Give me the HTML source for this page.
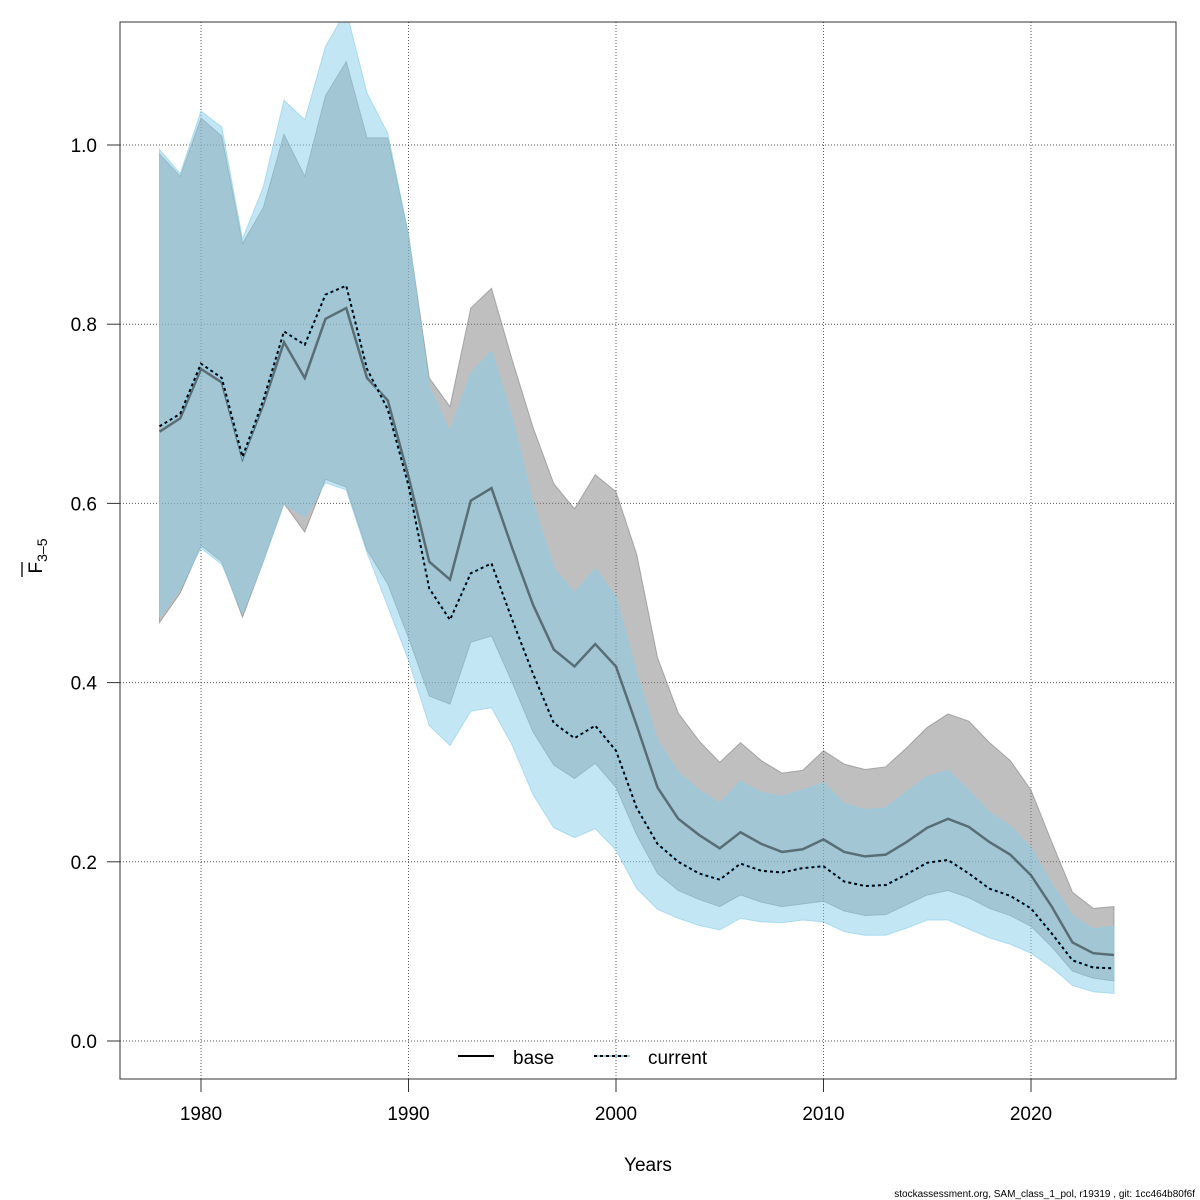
<!DOCTYPE html>
<html><head><meta charset="utf-8"><style>
body{margin:0;background:#fff}
svg{display:block;font-family:"Liberation Sans",sans-serif}
</style></head><body>
<svg id="chart" width="1200" height="1200" viewBox="0 0 1200 1200" xmlns="http://www.w3.org/2000/svg">
<defs><clipPath id="clip"><rect x="120" y="22" width="1056" height="1057"/></clipPath></defs>
<rect width="1200" height="1200" fill="#fff"/>
<g id="grid"></g>
<g id="bands" clip-path="url(#clip)"></g>
<g id="lines" clip-path="url(#clip)"></g>
<rect x="120" y="22" width="1056" height="1057" fill="none" stroke="#333" stroke-width="1"/>
<g id="axes"></g>
<g>
  <line x1="458" y1="1056" x2="494" y2="1056" stroke="#000" stroke-width="2"/>
  <text x="513" y="1064" font-size="19">base</text>
  <line x1="594" y1="1056" x2="630" y2="1056" stroke="#87ceeb" stroke-width="2"/>
  <line x1="594" y1="1056" x2="630" y2="1056" stroke="#000" stroke-width="2" stroke-dasharray="3,3"/>
  <text x="648" y="1064" font-size="19">current</text>
</g>
<text x="648" y="1171" font-size="19" text-anchor="middle">Years</text>
<g transform="translate(42,556) rotate(-90)">
  <text x="0" y="0" font-size="19" text-anchor="middle">F<tspan font-size="14" dy="5">3–5</tspan></text>
  <line x1="-21" y1="-20" x2="-6" y2="-20" stroke="#000" stroke-width="1.3"/>
</g>
<text x="1195" y="1197" font-size="10" text-anchor="end">stockassessment.org, SAM_class_1_pol, r19319 , git: 1cc464b80f6f</text>
</svg>
<script>
const years = [];
for (let y = 1978; y <= 2024; y++) years.push(y);
const baseMean = [0.68,0.695,0.75,0.735,0.65,0.71,0.78,0.74,0.806,0.818,0.74,0.715,0.63,0.535,0.515,0.603,0.617,0.55,0.487,0.437,0.418,0.443,0.418,0.352,0.283,0.248,0.23,0.215,0.233,0.22,0.211,0.214,0.225,0.211,0.206,0.208,0.222,0.238,0.248,0.239,0.222,0.208,0.185,0.15,0.11,0.098,0.096];
const baseUpper = [0.99,0.965,1.03,1.01,0.89,0.93,1.012,0.965,1.055,1.093,1.008,1.008,0.9,0.74,0.708,0.818,0.84,0.76,0.685,0.622,0.594,0.632,0.613,0.543,0.428,0.366,0.335,0.311,0.333,0.313,0.299,0.302,0.324,0.309,0.303,0.306,0.327,0.35,0.365,0.357,0.333,0.313,0.28,0.222,0.166,0.148,0.15];
const baseLower = [0.467,0.5,0.553,0.535,0.473,0.535,0.6,0.568,0.627,0.618,0.548,0.51,0.45,0.385,0.376,0.445,0.452,0.4,0.345,0.308,0.293,0.31,0.283,0.23,0.187,0.168,0.158,0.15,0.163,0.155,0.15,0.153,0.156,0.145,0.14,0.141,0.152,0.163,0.168,0.16,0.148,0.14,0.128,0.105,0.078,0.07,0.067];
const curMean = [0.686,0.7,0.756,0.74,0.652,0.715,0.792,0.777,0.833,0.843,0.75,0.705,0.62,0.505,0.47,0.522,0.533,0.47,0.41,0.355,0.338,0.352,0.324,0.26,0.22,0.2,0.187,0.18,0.198,0.19,0.188,0.193,0.195,0.178,0.173,0.174,0.186,0.199,0.202,0.187,0.17,0.162,0.148,0.12,0.09,0.082,0.081];
const curUpper = [0.995,0.968,1.038,1.02,0.895,0.953,1.05,1.028,1.11,1.15,1.058,1.013,0.9,0.73,0.68,0.745,0.77,0.695,0.6,0.528,0.5,0.527,0.495,0.41,0.335,0.3,0.28,0.265,0.29,0.277,0.273,0.28,0.288,0.265,0.258,0.26,0.278,0.295,0.302,0.28,0.255,0.24,0.215,0.175,0.14,0.125,0.128];
const curLower = [0.473,0.505,0.55,0.532,0.477,0.535,0.6,0.585,0.623,0.615,0.545,0.485,0.425,0.352,0.33,0.368,0.372,0.33,0.275,0.238,0.227,0.237,0.213,0.17,0.147,0.137,0.129,0.124,0.137,0.133,0.132,0.135,0.133,0.122,0.118,0.118,0.126,0.135,0.135,0.125,0.115,0.108,0.098,0.082,0.062,0.055,0.053];
const xTicks = [1980,1990,2000,2010,2020];
const yTicks = [0.0,0.2,0.4,0.6,0.8,1.0];
const yTickLabels = ["0.0","0.2","0.4","0.6","0.8","1.0"];

const NS = "http://www.w3.org/2000/svg";
const xs = yr => 201 + (yr - 1980) * 20.75;
const ys = v => 1041 - v * 896;
function mk(tag, attrs, parent) {
  const e = document.createElementNS(NS, tag);
  for (const k in attrs) e.setAttribute(k, attrs[k]);
  parent.appendChild(e);
  return e;
}
const grid = document.getElementById('grid');
const axes = document.getElementById('axes');
xTicks.forEach(t => {
  const l = mk('line', {x1: xs(t), x2: xs(t), y1: 22, y2: 1079, stroke: '#555', 'stroke-dasharray': '1,2', 'stroke-width': 1}, grid);
  
  
  const tk = mk('line', {x1: xs(t), x2: xs(t), y1: 1079, y2: 1092, stroke: '#333'}, axes);
  
  
  const tx = mk('text', {x: xs(t), y: 1120, 'font-size': 19, 'text-anchor': 'middle'}, axes);
  tx.textContent = t;
  
  
});
yTicks.forEach((t, i) => {
  const l = mk('line', {x1: 120, x2: 1176, y1: ys(t), y2: ys(t), stroke: '#555', 'stroke-dasharray': '1,2', 'stroke-width': 1}, grid);
  
  
  const tk = mk('line', {x1: 107, x2: 120, y1: ys(t), y2: ys(t), stroke: '#333'}, axes);
  
  
  const tx = mk('text', {x: 97, y: ys(t) + 7, 'font-size': 19, 'text-anchor': 'end'}, axes);
  tx.textContent = yTickLabels[i];
  
  
});
function bandPath(up, lo) {
  let d = '';
  years.forEach((y, i) => { d += (i ? 'L' : 'M') + xs(y) + ',' + ys(up[i]); });
  for (let i = years.length - 1; i >= 0; i--) d += 'L' + xs(years[i]) + ',' + ys(lo[i]);
  return d + 'Z';
}
function linePath(arr) {
  return years.map((y, i) => (i ? 'L' : 'M') + xs(y) + ',' + ys(arr[i])).join('');
}
const bands = document.getElementById('bands');
const b1 = mk('path', {d: bandPath(baseUpper, baseLower), fill: 'rgba(128,128,128,0.5)', stroke: 'rgba(128,128,128,0.6)', 'stroke-width': 1}, bands);


const b2 = mk('path', {d: bandPath(curUpper, curLower), fill: 'rgba(135,206,235,0.5)', stroke: 'rgba(135,206,235,0.6)', 'stroke-width': 1}, bands);


const lines = document.getElementById('lines');
const l1 = mk('path', {d: linePath(baseMean), fill: 'none', stroke: 'rgba(0,0,0,0.45)', 'stroke-width': 2.5}, lines);


const l2a = mk('path', {d: linePath(curMean), fill: 'none', stroke: '#87ceeb', 'stroke-width': 2}, lines);


const l2 = mk('path', {d: linePath(curMean), fill: 'none', stroke: '#000', 'stroke-width': 2, 'stroke-dasharray': '3,3'}, lines);


</script>
</body></html>
